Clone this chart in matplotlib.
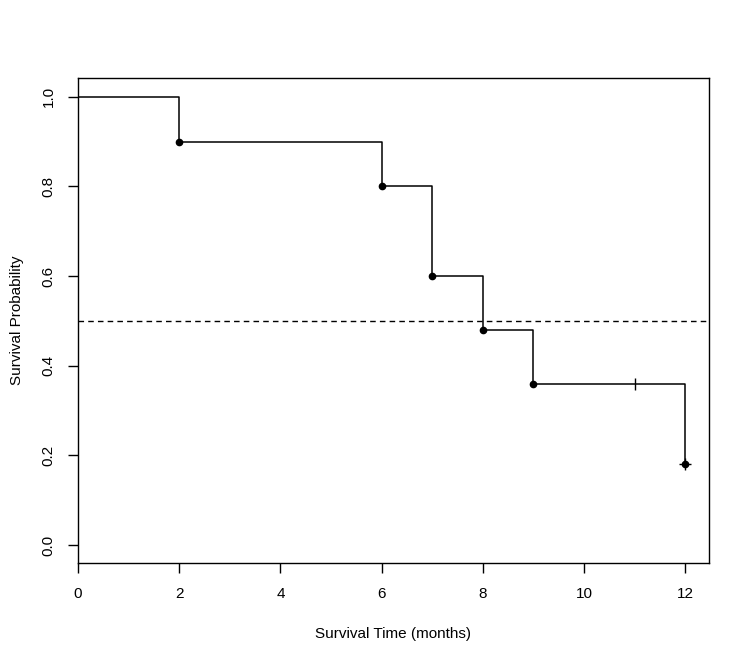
import matplotlib
matplotlib.use("Agg")
import matplotlib.pyplot as plt

# Kaplan-Meier estimate
event_times = [0, 2, 6, 7, 8, 9, 12]
survival = [1.0, 0.9, 0.8, 0.6, 0.48, 0.36, 0.18]
censor_times = [11]
censor_surv = [0.36]
x_ticks = [0, 2, 4, 6, 8, 10, 12]
y_ticks = [0.0, 0.2, 0.4, 0.6, 0.8, 1.0]

plt.rcParams['font.family'] = ['Liberation Sans', 'DejaVu Sans']

fig = plt.figure(figsize=(7.49, 6.60), dpi=100)
ax = fig.add_axes([0.1041, 0.147, 0.8425, 0.7348])

ax.step(event_times, survival, where='post', color='black', lw=1.1)
ax.plot(event_times[1:], survival[1:], 'o', color='black', ms=4.5)
ax.plot(censor_times, censor_surv, '|', color='black', ms=9, mew=1)
ax.plot([12], [0.18], '+', color='black', ms=9, mew=1)
ax.axhline(0.5, color='black', ls=(0, (4, 3)), lw=1)

ax.set_xlim(0, 12.47)
ax.set_ylim(-0.04, 1.042)
ax.set_xticks(x_ticks)
ax.set_yticks(y_ticks)
ax.set_yticklabels(['%.1f' % v for v in y_ticks], rotation=90, va='center')
ax.tick_params(direction='out', length=7, width=1, labelsize=11)
ax.tick_params(axis='x', pad=10)
ax.tick_params(axis='y', pad=9)
for s in ax.spines.values():
    s.set_linewidth(1)

ax.set_xlabel('Survival Time (months)', fontsize=11, labelpad=19)
ax.set_ylabel('Survival Probability', fontsize=11, labelpad=13)

fig.savefig('out.png', dpi=100)
